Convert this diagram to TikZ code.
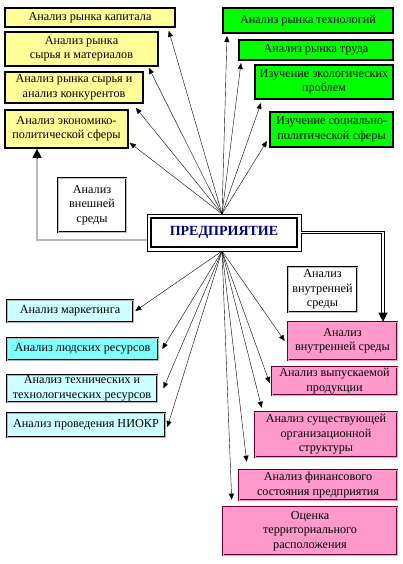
\documentclass[tikz,border=0pt]{standalone}
\usepackage{fontspec}
\setmainfont{Liberation Serif}
\usetikzlibrary{arrows.meta}

\definecolor{ylw}{HTML}{FFFF99}
\definecolor{grn}{HTML}{00FF00}
\definecolor{cyn}{HTML}{CCFFFF}
\definecolor{cyndark}{HTML}{80FFFF}
\definecolor{pnk}{HTML}{FF99CC}
\definecolor{plum}{HTML}{660033}
\definecolor{navy}{HTML}{000080}

\begin{document}
\begin{tikzpicture}[x=1pt,y=-1pt,
  font=\fontsize{12.2}{14.5}\selectfont,
  ybox/.style={draw=black,line width=1.6pt,fill=ylw,align=center,inner sep=0.5pt},
  gbox/.style={draw=black,line width=2pt,fill=grn,align=center,inner sep=0.5pt},
  cbox/.style={draw=black,double=gray!60,double distance=0.8pt,line width=0.6pt,fill=cyn,align=center,inner sep=0.5pt},
  pbox/.style={draw=plum,double=pnk,double distance=1pt,line width=0.6pt,fill=pnk,align=center,inner sep=0.5pt},
  wbox/.style={draw=black,double=gray!50,double distance=0.6pt,line width=0.5pt,fill=white,align=center,inner sep=0.5pt},
  ray/.style={-{Triangle[length=6pt,width=5pt]},line width=0.4pt},
  rail/.style={line width=3.4pt,line join=miter},
  tip/.style={-{Triangle[length=9pt,width=9pt]},line width=0.6pt}]
\useasboundingbox (0,0) rectangle (402,564);

% Top left: market analysis
\node[ybox,minimum width=170pt,minimum height=19pt] (yk1) at (90,17.5) {Анализ рынка капитала};
\node[ybox,minimum width=153pt,minimum height=34pt] (yk2) at (81.5,49) {Анализ рынка\\сырья и материалов};
\node[ybox,minimum width=138pt,minimum height=31pt] (yk3) at (74,87.5) {Анализ рынка сырья и\\анализ конкурентов};
\node[ybox,minimum width=123pt,minimum height=38pt] (yk4) at (66.5,129) {Анализ экономико-\\политической сферы};

% Top right
\node[gbox,minimum width=170pt,minimum height=25pt] (gk1) at (308,20.5) {Анализ рынка технологий};
\node[gbox,minimum width=154pt,minimum height=20pt] (gk2) at (316,50) {Анализ рынка труда};
\node[gbox,minimum width=138pt,minimum height=34pt] (gk3) at (324,82) {Изучение экологических\\проблем};
\node[gbox,minimum width=123pt,minimum height=35pt] (gk4) at (331.5,129.5) {Изучение социально-\\политической сферы};

% Enterprise
\node[draw=black,line width=2.2pt,fill=white,minimum width=146pt,minimum height=29pt,
  font=\fontsize{14}{16}\selectfont\bfseries,text=navy] (pr) at (224,232.5) {ПРЕДПРИЯТИЕ};
\draw[line width=0.6pt] ([shift={(-3pt,-3pt)}]pr.south west) rectangle ([shift={(3pt,3pt)}]pr.north east);

\node[wbox,minimum width=68pt,minimum height=54pt] (vnesh) at (92,205) {Анализ\\внешней\\среды};
\node[wbox,minimum width=69pt,minimum height=45pt] (vnutr) at (322.5,289.5) {Анализ\\внутренней\\среды};

% Bottom left
\node[cbox,minimum width=126pt,minimum height=22pt] (ck1) at (70,311) {Анализ маркетинга};
\node[cbox,fill=cyndark,minimum width=151pt,minimum height=22pt] (ck2) at (82.5,349) {Анализ людских ресурсов};
\node[cbox,minimum width=150pt,minimum height=27pt] (ck3) at (82,388.5) {Анализ технических и\\технологических ресурсов};
\node[cbox,minimum width=158pt,minimum height=24pt] (ck4) at (86,425) {Анализ проведения НИОКР};

% Bottom right
\node[pbox,minimum width=109pt,minimum height=38pt] (pk1) at (342.5,341) {Анализ\\внутренней среды};
\node[pbox,minimum width=125pt,minimum height=28pt] (pk2) at (334.5,381) {Анализ выпускаемой\\продукции};
\node[pbox,minimum width=142pt,minimum height=45pt] (pk3) at (326,434.5) {Анализ существующей\\организационной\\структуры};
\node[pbox,minimum width=158pt,minimum height=30pt] (pk4) at (318,485) {Анализ финансового\\состояния предприятия};
\node[pbox,minimum width=174pt,minimum height=48pt] (pk5) at (310,531) {Оценка\\территориального\\расположения};

% Rays up
\foreach \t/\a/\dx/\dy in {yk1/south east/-7/-3, yk2/south east/-10/-1, yk3/south east/-8/-4,
    yk4/south east/1/6, gk1/south west/5/-2, gk2/south west/3/-2, gk3/south west/7/-3, gk4/south west/-2/7}
  \draw[ray] ([xshift=-2pt,yshift=3pt]pr.north) -- ([xshift=\dx pt,yshift=\dy pt]\t.\a);

% Rays down
\foreach \t/\a/\dx/\dy in {ck1/east/2/0, ck2/east/4/0, ck3/east/6/0, ck4/east/2/-2,
    pk1/west/-3/0, pk2/west/-2/-2, pk3/north west/7/4, pk4/north west/8/8, pk5/north west/9/7}
  \draw[ray] ([xshift=-2pt,yshift=-3pt]pr.south) -- ([xshift=\dx pt,yshift=\dy pt]\t.\a);

% External environment
\coordinate (lt) at ([xshift=-29.5pt,yshift=-9pt]yk4.south);
\coordinate (lc) at ([xshift=-3pt,yshift=-7.5pt]pr.west);
\draw[rail,line width=2.6pt] (lc) -| (lt);
\draw[rail,gray!55,line width=1.6pt] (lc) -| (lt);
\draw[tip] (lt) -- (yk4.south -| lt);

% Internal environment
\coordinate (rt) at ([xshift=40.5pt,yshift=9pt]pk1.north);
\coordinate (rc) at ([xshift=3pt]pr.east);
\draw[rail] (rc) -| (rt);
\draw[rail,white,line width=1.4pt] (rc) -| (rt);
\draw[tip] (rt) -- (pk1.north -| rt);
\end{tikzpicture}
\end{document}
